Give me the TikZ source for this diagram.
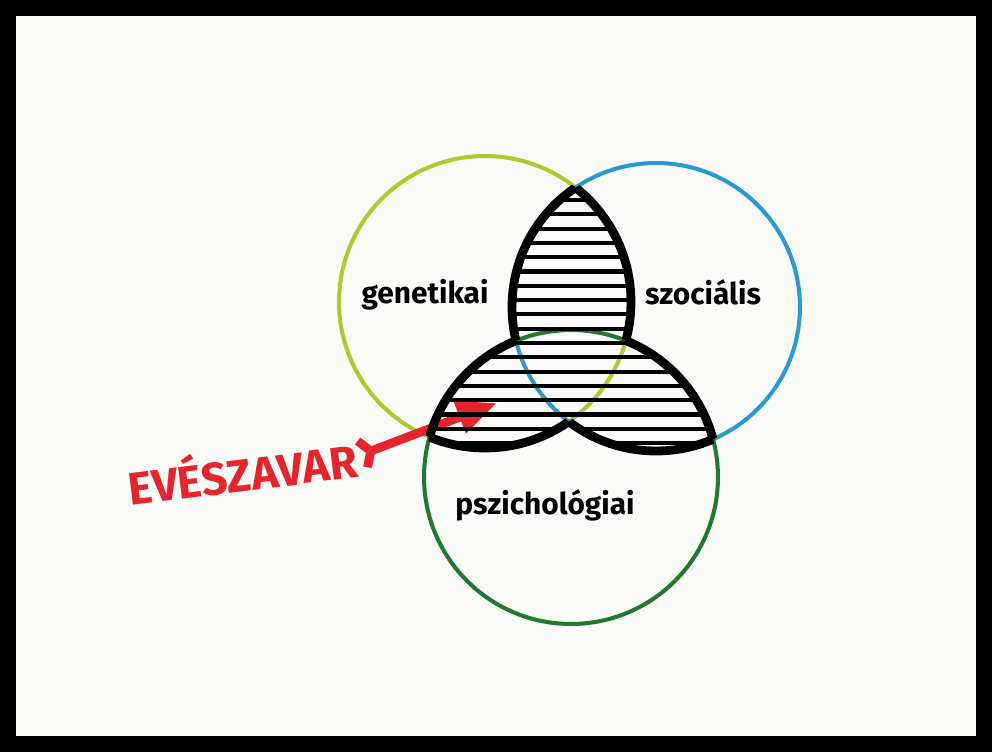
\documentclass[tikz,border=0pt]{standalone}
\usepackage{fontspec}
\setmainfont{Fira Sans}
\usetikzlibrary{arrows.meta}

\definecolor{genyellow}{HTML}{B2C92E}
\definecolor{szocblue}{HTML}{2A9AD2}
\definecolor{pszigreen}{HTML}{1F7A30}
\definecolor{markerred}{HTML}{E5242B}
\definecolor{paper}{HTML}{FAFAF9}

\newcommand{\gencirc}{(485,302) circle[radius=2.92cm]}
\newcommand{\szoccirc}{(656,307) circle[radius=2.88cm]}
\newcommand{\pszicirc}{(571,477) circle[radius=2.94cm]}

\tikzset{
  ring/.style={line width=2.3pt},
  hatch/.style={line width=2.3pt, black},
  outline/.style={line width=5pt, black},
  circlabel/.style={font=\fontsize{17}{20}\selectfont\bfseries},
  evlabel/.style={markerred, font=\fontsize{26}{28}\selectfont\bfseries, inner sep=1pt},
  redarrow/.style={markerred, line width=5pt,
    {Straight Barb[reversed, length=5pt, width=16pt]}-{Triangle[length=0.8cm, width=0.65cm]}},
}

% hatch lines inside two circles
\newcommand{\hatchpair}[2]{%
  \begin{scope}
    \clip #1; \clip #2;
    \foreach \y in {200,214.3,...,452} \draw[hatch] (380,\y) -- (780,\y);
  \end{scope}}

% black border: circle #1, inside #2, outside #3
\newcommand{\borderarc}[3]{%
  \begin{scope}[even odd rule]
    \clip #2;
    \clip (0,0) rectangle (992,752) #3;
    \draw[outline] #1;
  \end{scope}}

\begin{document}
\begin{tikzpicture}[x=0.02cm, y=-0.02cm]

    \useasboundingbox (0,0) rectangle (992,752);
    \fill[black] (0,0) rectangle (992,752);
    \fill[paper] (16,16) rectangle (976,736);

    \draw[ring, genyellow] \gencirc;
    \draw[ring, szocblue] \szoccirc;
    \draw[ring, pszigreen] \pszicirc;

    \node[evlabel, rotate=7] (evsz) at (242,470) {EVÉSZAVAR};
    \coordinate (arrowtip) at (497,403);
    \draw[redarrow] (evsz.east) -- (arrowtip);

    \hatchpair{\gencirc}{\szoccirc}
    \hatchpair{\gencirc}{\pszicirc}
    \hatchpair{\szoccirc}{\pszicirc}

    \borderarc{\gencirc}{\szoccirc}{\pszicirc}
    \borderarc{\gencirc}{\pszicirc}{\szoccirc}
    \borderarc{\szoccirc}{\gencirc}{\pszicirc}
    \borderarc{\szoccirc}{\pszicirc}{\gencirc}
    \borderarc{\pszicirc}{\gencirc}{\szoccirc}
    \borderarc{\pszicirc}{\szoccirc}{\gencirc}

    \node[circlabel] (genlab) at (425,295) {genetikai};
    \node[circlabel] (szoclab) at (703,292) {szociális};
    \node[circlabel] (pszilab) at (545,505) {pszichológiai};

\end{tikzpicture}
\end{document}
